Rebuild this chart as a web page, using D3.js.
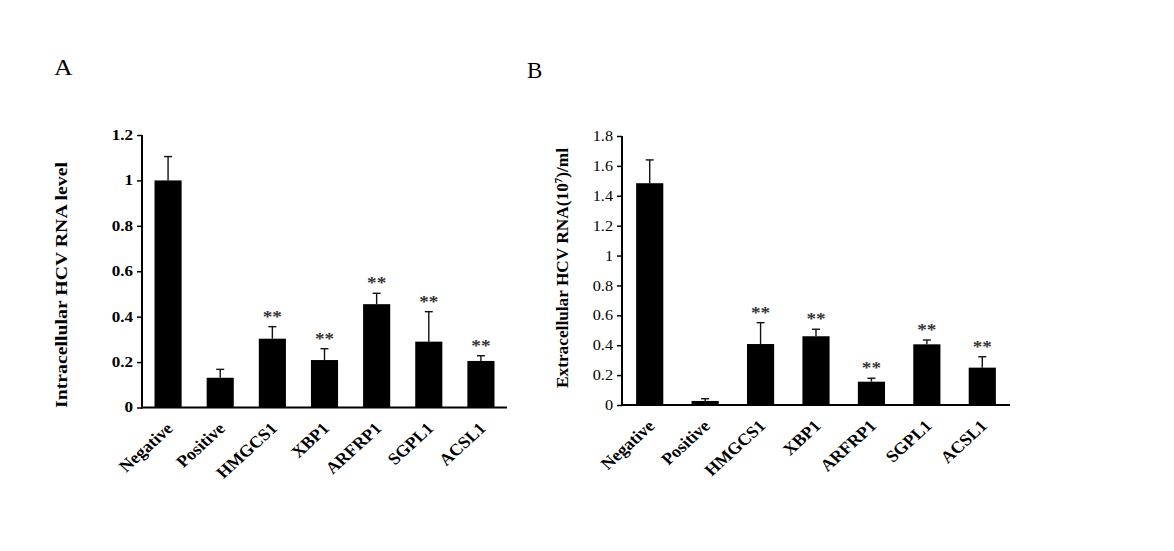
<!DOCTYPE html>
<html>
<head>
<meta charset="utf-8">
<script src="https://cdn.jsdelivr.net/npm/d3@7"></script>
<style>
  body { margin: 0; background: #fff; }
  svg { display: block; }
</style>
</head>
<body>
<svg id="drawing"></svg>
<script>
// data
const categories = ["Negative", "Positive", "HMGCS1", "XBP1", "ARFRP1", "SGPL1", "ACSL1"];

const intraValues = [1.0, 0.131, 0.303, 0.209, 0.455, 0.29, 0.205];
const intraErrors = [0.105, 0.037, 0.053, 0.05, 0.048, 0.132, 0.023];
const intraStars  = [false, false, true, true, true, true, true];
const intraTicks  = [0, 0.2, 0.4, 0.6, 0.8, 1, 1.2];

const extraValues = [1.484, 0.027, 0.408, 0.46, 0.156, 0.406, 0.25];
const extraErrors = [0.156, 0.015, 0.143, 0.047, 0.023, 0.029, 0.073];
const extraStars  = [false, false, true, true, true, true, true];
const extraTicks  = [0, 0.2, 0.4, 0.6, 0.8, 1, 1.2, 1.4, 1.6, 1.8];

const svg = d3.select('#drawing')
    .attr('width', 1174)
    .attr('height', 551);

svg.append('rect').attr('width', 1174).attr('height', 551).attr('fill', '#fff');

const font = '"Liberation Serif", "Times New Roman", serif';

function drawPanel(cfg) {
    const rows = categories.map((c, i) => ({
        cat: c, value: cfg.values[i], err: cfg.errors[i], star: cfg.stars[i]
    }));

    const x = d3.scaleBand()
        .domain(categories)
        .range([cfg.x0, cfg.x1])
        .paddingInner(cfg.pad)
        .paddingOuter(cfg.pad / 2);

    const y = d3.scaleLinear()
        .domain([0, cfg.max])
        .range([cfg.y0, cfg.y1]);

    const cx = d => x(d.cat) + x.bandwidth() / 2;

    const g = svg.append('g');

    // panel letter
    g.append('text')
        .attr('transform', `translate(${cfg.letterX}, ${cfg.letterY}) scale(${cfg.letterSx}, 1)`)
        .attr('font-family', font)
        .attr('font-size', 23)
        .text(cfg.letter);

    // bars
    g.selectAll('rect.bar')
        .data(rows)
        .enter()
        .append('rect')
        .attr('class', 'bar')
        .attr('x', d => x(d.cat))
        .attr('y', d => y(d.value))
        .attr('width', x.bandwidth())
        .attr('height', d => y(0) - y(d.value))
        .attr('fill', '#000');

    // error bars (upper only)
    const err = g.selectAll('g.err')
        .data(rows)
        .enter()
        .append('g')
        .attr('class', 'err')
        .attr('stroke', '#111')
        .attr('stroke-width', 1.4);

    err.append('line')
        .attr('x1', cx)
        .attr('x2', cx)
        .attr('y1', d => y(d.value))
        .attr('y2', d => y(d.value + d.err));

    err.append('line')
        .attr('x1', d => cx(d) - 4)
        .attr('x2', d => cx(d) + 4)
        .attr('y1', d => y(d.value + d.err))
        .attr('y2', d => y(d.value + d.err));

    // significance stars
    g.selectAll('text.star')
        .data(rows.filter(d => d.star))
        .enter()
        .append('text')
        .attr('class', 'star')
        .attr('transform', d => `translate(${cx(d)}, ${y(d.value + d.err) - 5}) scale(1.2, 1)`)
        .attr('text-anchor', 'middle')
        .attr('font-family', font)
        .attr('font-weight', 'bold')
        .attr('font-size', 16)
        .attr('fill', '#333')
        .text('**');

    // y axis
    const yaxis = d3.axisLeft(y)
        .tickValues(cfg.ticks)
        .tickFormat(d => d3.format('')(+d.toFixed(1)))
        .tickSize(5)
        .tickSizeOuter(0);

    const yg = g.append('g')
        .attr('transform', `translate(${cfg.x0}, 0)`)
        .call(yaxis);
    yg.select('.domain').attr('stroke-width', 2).attr('d', `M0,${cfg.y1}V${cfg.y0 + 1}`);
    yg.selectAll('.tick line').attr('stroke-width', 1.5);
    yg.selectAll('.tick text')
        .attr('x', 0)
        .attr('transform', `translate(-9, 0) scale(${cfg.tickSx}, 1)`)
        .attr('font-family', font)
        .attr('font-size', cfg.tickSize)
        .attr('font-weight', cfg.tickWeight)
        .attr('fill', '#000');

    // x axis
    const xaxis = d3.axisBottom(x).tickSize(0).tickSizeOuter(0);
    const xg = g.append('g')
        .attr('transform', `translate(0, ${cfg.y0})`)
        .call(xaxis);
    xg.select('.domain').attr('stroke-width', 2).attr('d', `M${cfg.x0 - 1},0H${cfg.x1}`);
    xg.selectAll('.tick text')
        .attr('font-family', font)
        .attr('font-size', 16.5)
        .attr('font-weight', 'bold')
        .attr('fill', '#000')
        .attr('text-anchor', 'end')
        .attr('dy', 0)
        .attr('y', 0)
        .attr('transform', 'translate(6, 22) scale(1.1, 1) rotate(-45)');

    // y label
    const lbl = g.append('text')
        .attr('transform', `translate(${cfg.labelX}, ${cfg.labelY}) rotate(-90)`)
        .attr('text-anchor', 'middle')
        .attr('font-family', font)
        .attr('font-weight', 'bold')
        .attr('font-size', 16)
        .attr('textLength', cfg.labelLength)
        .attr('lengthAdjust', 'spacingAndGlyphs');
    lbl.append('tspan').text(cfg.label[0]);
    if (cfg.label.length > 1) {
        lbl.append('tspan').attr('dy', -6).attr('font-size', 10).text(cfg.label[1]);
        lbl.append('tspan').attr('dy', 6).text(cfg.label[2]);
    }
}

drawPanel({
    letter: 'A', letterX: 54, letterY: 75, letterSx: 1.12,
    x0: 142, x1: 507, y0: 407.5, y1: 135, max: 1.2, pad: 0.48,
    values: intraValues, errors: intraErrors, stars: intraStars, ticks: intraTicks,
    tickSize: 14, tickWeight: 'bold', tickSx: 1.22,
    label: ['Intracellular HCV RNA level'], labelX: 67, labelY: 285, labelLength: 246
});

drawPanel({
    letter: 'B', letterX: 527, letterY: 78, letterSx: 1,
    x0: 622, x1: 1010, y0: 405, y1: 136, max: 1.8, pad: 0.51,
    values: extraValues, errors: extraErrors, stars: extraStars, ticks: extraTicks,
    tickSize: 14.5, tickWeight: 'normal', tickSx: 1.12,
    label: ['Extracellular HCV RNA(10', '7', ')/ml'], labelX: 568, labelY: 268, labelLength: 240
});
</script>
</body>
</html>
